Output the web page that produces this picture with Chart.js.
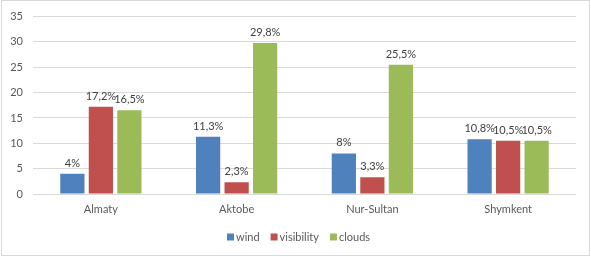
<!DOCTYPE html>
<html>
<head>
<meta charset="utf-8">
<script src="https://cdn.jsdelivr.net/npm/chart.js@4/dist/chart.umd.min.js"></script>
<style>
html,body{margin:0;padding:0;background:#fff;}
#wrap{position:relative;width:591px;height:257px;}
</style>
</head>
<body>
<div id="wrap"><canvas id="c" width="591" height="257"></canvas></div>
<script>
const categories = ["Almaty", "Aktobe", "Nur-Sultan", "Shymkent"];
const seriesNames = ["wind", "visibility", "clouds"];
const windValues = [4, 11.3, 8, 10.8];
const visibilityValues = [17.2, 2.3, 3.3, 10.5];
const cloudsValues = [16.5, 29.8, 25.5, 10.5];
const yTicks = [0, 5, 10, 15, 20, 25, 30, 35];
const colors = ["#4F81BD", "#C0504D", "#9BBB59"];

const FONT = "Lato, 'Liberation Sans', sans-serif";
const TEXT = "#595959";

function fmt(v){ return String(v).replace('.', ',') + '%'; }

const frame = {
  id: 'frame',
  beforeDraw(chart){
    const ctx = chart.ctx;
    ctx.save();
    ctx.fillStyle = '#fff';
    ctx.fillRect(0,0,chart.width,chart.height);
    ctx.strokeStyle = '#d9d9d9';
    ctx.lineWidth = 1;
    ctx.strokeRect(1.5, 0.5, 588, 255);
    ctx.restore();
  }
};

const valueLabels = {
  id: 'valueLabels',
  afterDatasetsDraw(chart){
    const ctx = chart.ctx;
    ctx.save();
    ctx.font = "11px " + FONT;
    ctx.fillStyle = "#404040";
    ctx.textAlign = 'center';
    ctx.textBaseline = 'bottom';
    chart.data.datasets.forEach((ds, i) => {
      chart.getDatasetMeta(i).data.forEach((bar, j) => {
        ctx.fillText(fmt(ds.data[j]), bar.x, bar.y - 5);
      });
    });
    ctx.restore();
  }
};

const customLegend = {
  id: 'customLegend',
  afterDraw(chart){
    const ctx = chart.ctx;
    ctx.save();
    ctx.font = "11px " + FONT;
    ctx.textBaseline = 'middle';
    const box = 7, gapBoxText = 2, gapItems = 11;
    const items = chart.data.datasets.map(d => ({label: d.label, color: d.backgroundColor, w: ctx.measureText(d.label).width}));
    let total = 0;
    items.forEach((it, k) => { total += box + gapBoxText + it.w + (k < items.length-1 ? gapItems : 0); });
    let x = Math.round(299 - total/2);
    const y = 237;
    items.forEach(it => {
      ctx.fillStyle = it.color;
      ctx.fillRect(x, y - box/2, box, box);
      x += box + gapBoxText;
      ctx.fillStyle = TEXT;
      ctx.textAlign = 'left';
      ctx.fillText(it.label, x, y);
      x += it.w + gapItems;
    });
    ctx.restore();
  }
};

new Chart(document.getElementById('c'), {
  type: 'bar',
  data: {
    labels: categories,
    datasets: [
      {label: seriesNames[0], data: windValues, backgroundColor: colors[0]},
      {label: seriesNames[1], data: visibilityValues, backgroundColor: colors[1]},
      {label: seriesNames[2], data: cloudsValues, backgroundColor: colors[2]}
    ]
  },
  options: {
    responsive: false,
    animation: false,
    devicePixelRatio: 1,
    layout: {padding: {left: 0, right: 15, top: 15, bottom: 33}},
    datasets: {bar: {barPercentage: 0.85, categoryPercentage: 0.63}},
    plugins: {
      legend: {display: false},
      tooltip: {enabled: false}
    },
    scales: {
      x: {
        grid: {display: false, drawTicks: false},
        border: {display: false},
        ticks: {color: TEXT, font: {family: FONT, size: 11}, padding: 9},
        afterFit(s){ s.height = 30; }
      },
      y: {
        min: 0, max: 35,
        afterBuildTicks(s){ s.ticks = yTicks.map(v => ({value: v})); },
        grid: {color: '#d9d9d9', drawTicks: false},
        border: {display: false},
        ticks: {color: TEXT, font: {family: FONT, size: 11}, padding: 10},
        afterFit(s){ s.width = 33; }
      }
    }
  },
  plugins: [frame, valueLabels, customLegend]
});
</script>
</body>
</html>
